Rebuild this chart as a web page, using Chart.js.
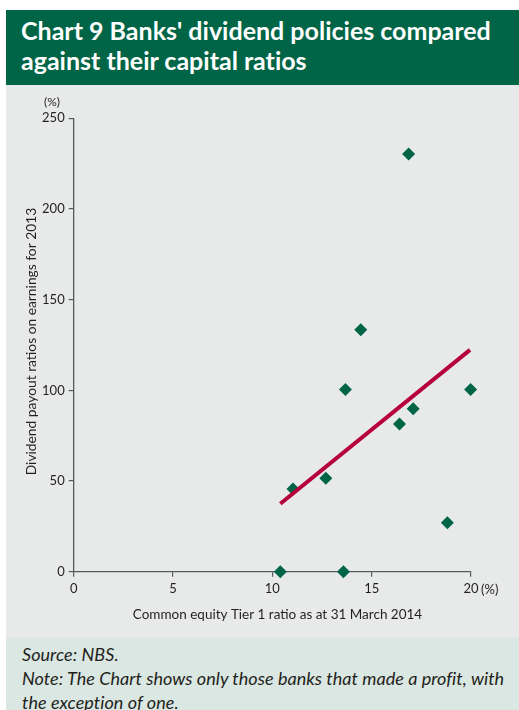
<!DOCTYPE html>
<html>
<head>
<meta charset="utf-8">
<script src="https://cdn.jsdelivr.net/npm/chart.js@4/dist/chart.umd.min.js"></script>
<style>
  html, body { margin:0; padding:0; background:#ffffff; width:519px; height:710px; overflow:hidden; }
  #title { position:absolute; left:6px; top:10px; width:513px; height:75px; background:#006446; color:#ffffff;
           font-family:'Lato', sans-serif; font-weight:bold; font-size:25px; line-height:30px; box-sizing:border-box; padding:5px 0 0 15px;
           font-variant-ligatures:none; }
  #panel { position:absolute; left:6px; top:85px; width:513px; height:553px; background:#e8eae9; }
  #footer { position:absolute; left:6px; top:638px; width:513px; height:72px; background:#dbe7e2; color:#231f20;
            font-family:'Lato', sans-serif; font-style:italic; font-size:18px; letter-spacing:0.05px; line-height:24px; box-sizing:border-box; padding:4px 0 0 16px;
            font-variant-ligatures:none; white-space:nowrap; }
  canvas { display:block; }
</style>
</head>
<body>
<div id="title">Chart 9 Banks' dividend policies compared<br>against their capital ratios</div>
<div id="panel"><canvas id="c" width="513" height="553"></canvas></div>
<div id="footer">Source: NBS.<br>Note: The Chart shows only those banks that made a profit, with<br>the exception of one.</div>
<script>
// Data
const cet1Ratio   = [10.40, 13.58, 11.04, 12.69, 13.68, 14.45, 16.86, 16.40, 17.09, 18.81, 19.98];
const payoutRatio = [0, 0, 45.6, 51.5, 100.4, 133.4, 230.3, 81.4, 89.9, 27.0, 100.4];
const trendX = [10.4, 19.95];
const trendY = [37.5, 122.3];
const xTicks = [0, 5, 10, 15, 20];
const yTicks = [0, 50, 100, 150, 200, 250];
const xTitle = 'Common equity Tier 1 ratio as at 31 March 2014';
const yTitle = 'Dividend payout ratios on earnings for 2013';
const unitLabel = '(%)';

const points = cet1Ratio.map((x, i) => ({ x: x, y: payoutRatio[i] }));
const trend = trendX.map((x, i) => ({ x: x, y: trendY[i] }));

const textColor = '#231f20';
const axisColor = '#58595b';
const fontFam = 'Lato, sans-serif';

const labelsPlugin = {
  id: 'labels',
  afterDraw(chart) {
    const ctx = chart.ctx;
    const xs = chart.scales.x;
    ctx.save();
    ctx.fillStyle = textColor;
    ctx.font = '13.5px ' + fontFam;
    ctx.textAlign = 'center';
    ctx.textBaseline = 'middle';
    // x axis title
    ctx.fillText(xTitle, 271.5, 529.5);
    // y unit
    ctx.font = '12px ' + fontFam;
    ctx.fillText(unitLabel, 46, 17);
    // x unit
    ctx.textAlign = 'left';
    ctx.font = '13px ' + fontFam;
    ctx.fillText(unitLabel, xs.getPixelForValue(20) + 10, 504.5);
    // y title rotated
    ctx.font = '13.8px ' + fontFam;
    ctx.translate(26, 256.5);
    ctx.rotate(-Math.PI / 2);
    ctx.textAlign = 'center';
    ctx.fillText(yTitle, 0, 0);
    ctx.restore();
  }
};

new Chart(document.getElementById('c'), {
  type: 'scatter',
  data: {
    datasets: [
      {
        type: 'line',
        data: trend,
        borderColor: '#b5003c',
        borderWidth: 4,
        pointRadius: 0,
        fill: false,
        clip: false,
        order: 0
      },
      {
        data: points,
        pointStyle: 'rectRot',
        pointRadius: 6.5,
        pointHoverRadius: 6.5,
        backgroundColor: '#006446',
        borderColor: '#006446',
        borderWidth: 0,
        clip: false,
        order: 1
      }
    ]
  },
  options: {
    responsive: false,
    animation: false,
    events: [],
    layout: { padding: { left: 0, right: 48, top: 33.3, bottom: 0 } },
    plugins: { legend: { display: false }, tooltip: { enabled: false } },
    scales: {
      x: {
        type: 'linear', min: 0, max: 20,
        afterBuildTicks: s => { s.ticks = xTicks.map(v => ({ value: v })); },
        afterFit: s => { s.height = 66.3; },
        ticks: { color: textColor, font: { family: fontFam, size: 13 }, padding: 4, maxRotation: 0 },
        grid: { display: true, drawOnChartArea: false, tickLength: 5, color: axisColor, lineWidth: 1.2 },
        border: { display: true, color: axisColor, width: 1.3 }
      },
      y: {
        type: 'linear', min: 0, max: 250,
        afterBuildTicks: s => { s.ticks = yTicks.map(v => ({ value: v })); },
        afterFit: s => { s.width = 67.7; },
        ticks: { color: textColor, font: { family: fontFam, size: 13 }, padding: 4 },
        grid: { display: true, drawOnChartArea: false, tickLength: 5, color: axisColor, lineWidth: 1.2 },
        border: { display: true, color: axisColor, width: 1.3 }
      }
    }
  },
  plugins: [labelsPlugin]
});
</script>
</body>
</html>
